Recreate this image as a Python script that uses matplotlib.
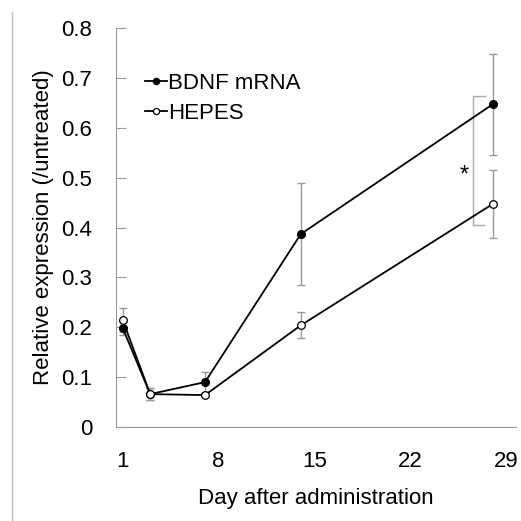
import matplotlib
matplotlib.use("Agg")
import matplotlib.pyplot as plt
from matplotlib.lines import Line2D

plt.rcParams['font.family'] = ['Liberation Sans', 'DejaVu Sans']

# -------------------- Data --------------------
days = [1, 3, 7, 14, 28]
bdnf = [0.198, 0.066, 0.090, 0.387, 0.647]
bdnf_err = [0.013, 0.012, 0.020, 0.102, 0.102]
hepes = [0.214, 0.066, 0.064, 0.204, 0.447]
hepes_err = [0.024, 0.012, 0.004, 0.026, 0.068]
x_ticks = [1, 8, 15, 22, 29]
y_ticks = [0, 0.1, 0.2, 0.3, 0.4, 0.5, 0.6, 0.7, 0.8]

# -------------------- Plot --------------------
fig = plt.figure(figsize=(5.21, 5.21), dpi=100)
ax = fig.add_axes([0.2226, 0.1804, 0.7674, 0.7656])

ax.errorbar(days, bdnf, yerr=bdnf_err, fmt='none', ecolor='#999999',
            elinewidth=1, capsize=3, capthick=1, zorder=1)
ax.errorbar(days, hepes, yerr=hepes_err, fmt='none', ecolor='#999999',
            elinewidth=1, capsize=3, capthick=1, zorder=1)
ax.plot(days, bdnf, color='black', lw=1.3, marker='o', ms=5.5,
        mfc='black', mec='black', label='BDNF mRNA', zorder=3)
ax.plot(days, hepes, color='black', lw=1.3, marker='o', ms=5.5,
        mfc='white', mec='black', mew=0.9, label='HEPES', zorder=3)

# significance bracket
ax.plot([27.45, 26.6, 26.6, 27.4], [0.663, 0.663, 0.406, 0.406],
        color='#aaaaaa', lw=1, zorder=1)
ax.text(25.9, 0.505, '*', fontsize=17, ha='center', va='center')

ax.set_xlim(0.5, 29.7)
ax.set_ylim(0, 0.8)
ax.set_xticks(x_ticks)
ax.set_xticklabels([str(t) for t in x_ticks])
ax.set_yticks(y_ticks)
ax.set_yticklabels(['0'] + [f'{t:.1f}' for t in y_ticks[1:]])
ax.tick_params(axis='x', length=0, labelsize=16, pad=17)
ax.tick_params(axis='y', direction='in', length=7, color='#999999',
               labelsize=16, pad=17)
for s in ['top', 'right']:
    ax.spines[s].set_visible(False)
ax.spines['left'].set_color('#999999')
ax.spines['bottom'].set_color('#999999')

ax.set_xlabel('Day after administration', fontsize=16, labelpad=12)
ax.set_ylabel('Relative expression (/untreated)', fontsize=16, labelpad=5)

ax.legend(loc='upper left', bbox_to_anchor=(0.05, 0.91), frameon=False,
          fontsize=16, handlelength=1.0, handletextpad=0.05, labelspacing=0.4,
          borderaxespad=0.0, markerscale=0.8)

fig.add_artist(Line2D([12 / 521, 12 / 521], [0, 1 - 12 / 521],
                      transform=fig.transFigure, color='#bbbbbb', lw=1))

fig.savefig('out.png', dpi=100)
